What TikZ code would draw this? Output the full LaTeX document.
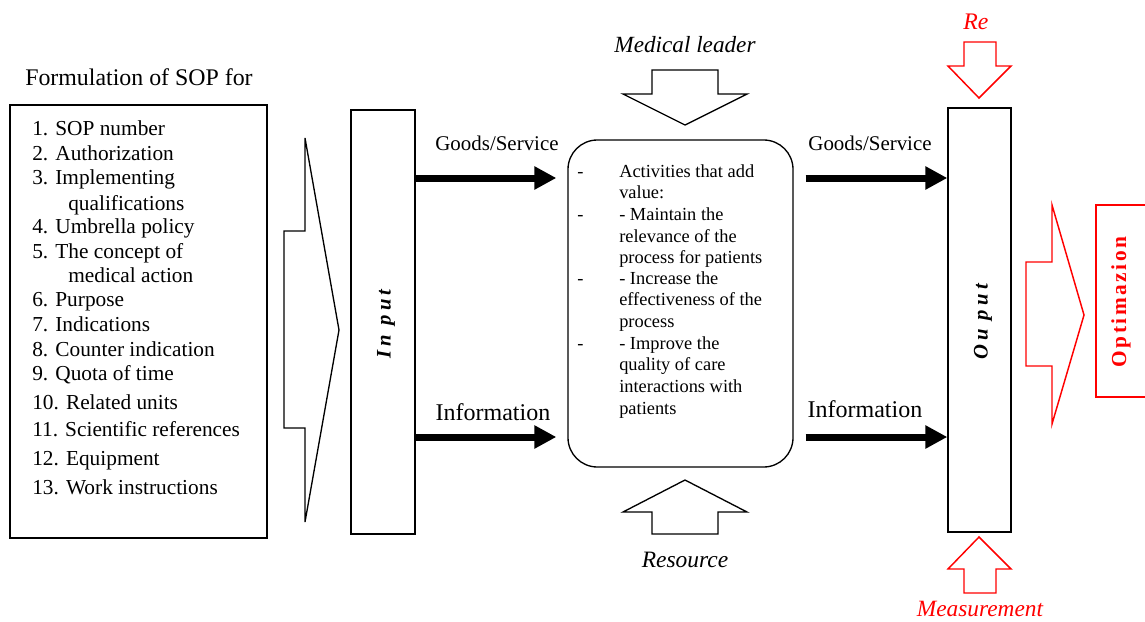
\documentclass[tikz,border=0pt]{standalone}
\usepackage{fontspec}
\setmainfont{Liberation Serif}
\newfontfamily\spacedio[LetterSpace=20]{Liberation Serif}
\newfontfamily\spacedo[LetterSpace=12]{Liberation Serif}
\usetikzlibrary{arrows.meta,fit,calc}
\begin{document}
\begin{tikzpicture}[x=0.75pt,y=-0.75pt,
  box/.style={draw, line width=1pt, inner sep=0pt},
  hollow/.style={draw, line width=1pt, fill=white, line join=miter},
  redhollow/.style={draw=red, line width=1.1pt, line join=miter},
  bigarrow/.style={line width=5.25pt, -{Triangle[length=16.5pt,width=16.5pt]}},
  listitem/.style={anchor=base west, inner sep=0pt, font=\fontsize{16}{19}\selectfont},
  procitem/.style={anchor=base west, inner sep=0pt, font=\fontsize{13.8}{16}\selectfont},
  lbl/.style={inner sep=0pt}]
\useasboundingbox (0,0) rectangle (1145,621);

% left list
\node[anchor=base west, inner sep=0pt, font=\fontsize{17.9}{20}\selectfont] (title) at (25,85) {Formulation of SOP for};
\node[box, fit={(10,105) (267,538)}] (list) {};
\foreach \t/\x/\y [count=\i] in {
  {1. SOP number}/32/128, {2. Authorization}/32/153, {3. Implementing}/32/177,
  {qualifications}/68/203, {4. Umbrella policy}/32/226, {5. The concept of}/32/251,
  {medical action}/68/275, {6. Purpose}/32/299, {7. Indications}/32/324,
  {8. Counter indication}/32/349, {9. Quota of time}/32/373, {10. Related units}/32/402,
  {11. Scientific references}/32/429, {12. Equipment}/32/458, {13. Work instructions}/32/487}
  \node[listitem] (item\i) at (\x,\y+7) {\t};

% big hollow arrow into input
\draw[hollow] (284,231) -- (305,231) -- (305,138) -- (339,330) -- (305,522) -- (305,428) -- (284,428) -- cycle;

% input box
\node[box, fit={(351,110) (415,534)}] (inp) {};
\node[lbl, rotate=90, font=\spacedio\bfseries\itshape\fontsize{15.5}{18}\selectfont] (inptxt) at (386,324) {In put};

% process box
\node[box, rounded corners=22pt, fit={(568,140) (793,467)}] (proc) {};
\foreach \t/\y [count=\i] in {
  {Activities that add}/171, {value:}/192, {- Maintain the}/214, {relevance of the}/236,
  {process for patients}/257, {- Increase the}/278, {effectiveness of the}/299, {process}/321,
  {- Improve the}/343, {quality of care}/364, {interactions with}/386, {patients}/408}
  \node[procitem] (pline\i) at (619,\y+6) {\t};
\foreach \y [count=\i] in {171,214,278,343}
  \node[procitem] (bullet\i) at (577,\y+6) {-};

% output box
\node[box, fit={(948,108) (1011,532)}] (outb) {};
\node[lbl, rotate=90, font=\spacedio\bfseries\itshape\fontsize{15.5}{18}\selectfont] (outtxt) at (983,322) {Ou put};

% flow arrows
\draw[bigarrow] (inp.east |- 0,178) -- ($(proc.west |- 0,178)+(-11,0)$);
\draw[bigarrow] (inp.east |- 0,437) -- ($(proc.west |- 0,437)+(-11,0)$);
\draw[bigarrow] ($(proc.east |- 0,178)+(12,0)$) -- (outb.west |- 0,178);
\draw[bigarrow] ($(proc.east |- 0,437)+(12,0)$) -- (outb.west |- 0,437);
\node[lbl, font=\fontsize{15.7}{18}\selectfont] (gs1) at (497,143) {Goods/Service};
\node[lbl, font=\fontsize{18}{20}\selectfont] (inf1) at (493,412) {Information};
\node[lbl, font=\fontsize{15.7}{18}\selectfont] (gs2) at (870,143) {Goods/Service};
\node[lbl, font=\fontsize{18}{20}\selectfont] (inf2) at (865,409) {Information};

% medical leader / resource
\node[lbl, font=\itshape\fontsize{17.4}{20}\selectfont] (ml) at (685,45) {Medical leader};
\draw[hollow] (652,70) -- (718,70) -- (718,94) -- (747,94) -- (685,125) -- (623,94) -- (652,94) -- cycle;
\draw[hollow] (685,480) -- (747,512) -- (718,512) -- (718,534) -- (652,534) -- (652,512) -- (623,512) -- cycle;
\node[lbl, font=\itshape\fontsize{17.6}{20}\selectfont] (res) at (685,560) {Resource};

% red parts
\node[lbl, text=red, font=\itshape\fontsize{17.8}{20}\selectfont] (re) at (976,22) {Re};
\draw[redhollow] (964,42) -- (996,42) -- (996,66) -- (1011,66) -- (979,98) -- (948,66) -- (964,66) -- cycle;
\draw[redhollow] (979,537) -- (1011,569) -- (996,569) -- (996,593) -- (964,593) -- (964,569) -- (948,569) -- cycle;
\node[lbl, text=red, font=\itshape\fontsize{17.5}{20}\selectfont] (meas) at (980,609) {Measurement};
\draw[redhollow] (1026,262) -- (1052,262) -- (1052,205) -- (1084,315) -- (1052,424) -- (1052,366) -- (1026,366) -- cycle;
\draw[redhollow] (1150,205) -- (1096,205) -- (1096,397) -- (1150,397);
\node[lbl, rotate=90, text=red, font=\spacedo\bfseries\fontsize{16}{18}\selectfont] (opt) at (1121,302) {Optimazion};
\end{tikzpicture}
\end{document}
